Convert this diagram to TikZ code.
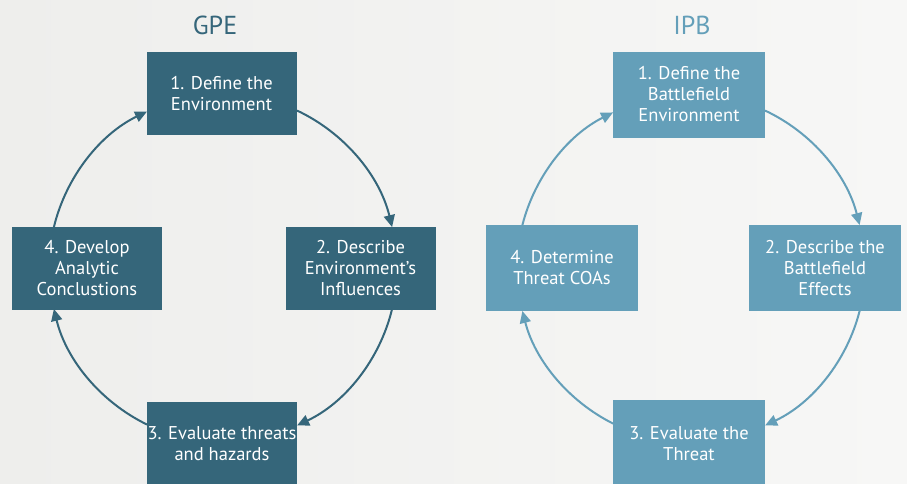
\documentclass[tikz,border=0pt]{standalone}
\usepackage{fontspec}
\setmainfont{PT Sans}
\usetikzlibrary{arrows.meta,calc}
\definecolor{gpe}{HTML}{35667A}
\definecolor{ipb}{HTML}{649FB9}
\definecolor{bgl}{HTML}{EEEEEC}
\definecolor{bgr}{HTML}{F7F7F6}
\tikzset{
  stepbox/.style={inner sep=0pt, align=center, text=white,
    font=\fontsize{18.5}{21}\selectfont},
  gpebox/.style={stepbox, fill=gpe, minimum width=150pt, minimum height=83pt},
  ipbbox/.style={stepbox, fill=ipb, minimum width=152pt, minimum height=86pt},
  cyc/.style={line width=2pt, -{Triangle[length=12pt,width=11pt]}},
  ttl/.style={font=\fontsize{26}{30}\selectfont}
}
\begin{document}
\begin{tikzpicture}[x=1pt,y=1pt]
\shade[left color=bgl,right color=bgr] (0,0) rectangle (907,-483);
\useasboundingbox (0,0) rectangle (907,-483);
% GPE
\node[ttl,text=gpe] (tg) at (215,-25) {GPE};
\node[gpebox] (g1) at (221.5,-93.5) {1. Define the\\Environment};
\node[gpebox] (g4) at (87,-268) {4. Develop\\Analytic\\Conclustions};
\node[gpebox] (g2) at (360.5,-268) {2. Describe\\Environment’s\\Influences};
\node[gpebox] (g3) at (222,-443.5) {3. Evaluate threats\\and hazards};
\coordinate (gc) at (223,-268);
\draw[cyc,gpe] ($(gc)+(166.4:174)$) arc[start angle=166.4,end angle=115.9,radius=174];
\draw[cyc,gpe] ($(gc)+(64.8:174)$) arc[start angle=64.8,end angle=13.6,radius=174];
\draw[cyc,gpe] ($(gc)+(-13.6:174)$) arc[start angle=-13.6,end angle=-64.8,radius=174];
\draw[cyc,gpe] ($(gc)+(-115.9:174)$) arc[start angle=-115.9,end angle=-166.4,radius=174];
% IPB
\node[ttl,text=ipb] (ti) at (692,-25) {IPB};
\node[ipbbox] (i1) at (689,-94.5) {1. Define the\\Battlefield\\Environment};
\node[ipbbox] (i4) at (562,-268) {4. Determine\\Threat COAs};
\node[ipbbox] (i2) at (825,-268) {2. Describe the\\Battlefield\\Effects};
\node[ipbbox,minimum height=88pt] (i3) at (689,-444) {3. Evaluate the\\Threat};
\coordinate (ic) at (691,-268);
\draw[cyc,ipb] ($(ic)+(165.7:174)$) arc[start angle=165.7,end angle=116.6,radius=174];
\draw[cyc,ipb] ($(ic)+(64.8:174)$) arc[start angle=64.8,end angle=14.3,radius=174];
\draw[cyc,ipb] ($(ic)+(-14.3:174)$) arc[start angle=-14.3,end angle=-64.8,radius=174];
\draw[cyc,ipb] ($(ic)+(-116.6:174)$) arc[start angle=-116.6,end angle=-165.7,radius=174];
\end{tikzpicture}
\end{document}
